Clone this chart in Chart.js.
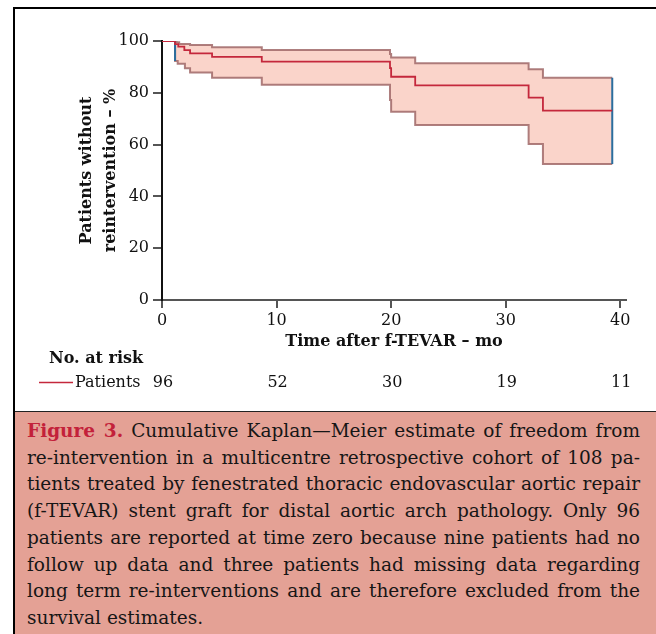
<!DOCTYPE html>
<html>
<head>
<meta charset="utf-8">
<script src="https://cdn.jsdelivr.net/npm/chart.js@4.4.1/dist/chart.umd.min.js"></script>
<style>
  html, body { margin: 0; padding: 0; background: #fff; }
  body { width: 656px; height: 634px; position: relative; overflow: hidden; }
  #frame { position: absolute; left: 13px; top: 7px; width: 643px; height: 627px;
           border-top: 2px solid #000; border-left: 2px solid #000; box-sizing: border-box; }
  #wrap { position: absolute; left: 15px; top: 9px; width: 641px; height: 402px; }
  #caption { position: absolute; left: 15px; top: 411px; right: 0; bottom: 0;
             background: #e4a195; border-top: 1px solid #222;
             padding: 6px 16px 0 12px; font-family: "DejaVu Serif", serif;
             font-size: 18.5px; line-height: 26.7px; color: #161616; }
  #caption div { text-align: justify; text-align-last: justify; }
  #caption div.last { text-align-last: left; }
  #caption b { color: #c3213a; }
</style>
</head>
<body>
<div id="frame"></div>
<div id="wrap"><canvas id="km" width="641" height="402"></canvas></div>
<div id="caption">
  <div><b>Figure 3.</b> Cumulative Kaplan—Meier estimate of freedom from</div>
  <div>re-intervention in a multicentre retrospective cohort of 108 pa-</div>
  <div>tients treated by fenestrated thoracic endovascular aortic repair</div>
  <div>(f-TEVAR) stent graft for distal aortic arch pathology. Only 96</div>
  <div>patients are reported at time zero because nine patients had no</div>
  <div>follow up data and three patients had missing data regarding</div>
  <div>long term re-interventions and are therefore excluded from the</div>
  <div class="last">survival estimates.</div>
</div>
<script>
// step times (months) shared by the estimate and its confidence band
const times  = [0, 1.14, 1.28, 1.37, 1.42, 1.5, 1.95, 2.0, 2.45, 4.37, 8.71, 19.9, 20.0, 22.1, 32.0, 33.25, 39.3];
const km     = [100, 98.8, 98.8, 98.8, 97.8, 97.8, 96.5, 96.5, 95.2, 93.9, 92.0, 89.5, 86.2, 82.9, 78.1, 73.1, 73.1];
const upper  = [100, 100, 99.5, 99.5, 99.5, 98.8, 98.8, 98.8, 98.5, 97.6, 96.5, 95.0, 93.6, 91.4, 89.1, 85.8, 85.8];
const lower  = [100, 92.3, 92.3, 91.2, 91.2, 91.2, 91.2, 89.5, 87.8, 85.8, 83.1, 77.2, 72.7, 67.6, 60.2, 52.5, 52.5];

const xTicks = [0, 10, 20, 30, 40];
const yTicks = [0, 20, 40, 60, 80, 100];
const riskTimes  = [0, 10, 20, 30, 40];
const riskCounts = [96, 52, 30, 19, 11];

const FONT = "DejaVu Serif";
const RED = "#c4283c";
const BAND_LINE = "rgba(160,105,105,0.85)";
const BLUE = "#2b6e9e";

function pts(ys) {
  return times.map((t, i) => ({ x: t, y: ys[i] }));
}
const last = times.length - 1;
const edgeStart = [{ x: times[1], y: upper[0] }, { x: times[1], y: lower[1] }];
const edgeEnd = [{ x: times[last], y: upper[last] }, { x: times[last], y: lower[last] }];

// "No. at risk" table under the x axis
const riskTable = {
  id: "riskTable",
  afterDraw(chart) {
    const { ctx } = chart;
    const xs = chart.scales.x;
    ctx.save();
    ctx.fillStyle = "#111";
    ctx.textBaseline = "middle";
    ctx.font = "bold 16px '" + FONT + "'";
    ctx.textAlign = "left";
    ctx.fillText("No. at risk", 34, 350);

    ctx.strokeStyle = RED;
    ctx.lineWidth = 1.5;
    ctx.beginPath();
    ctx.moveTo(24, 373.5);
    ctx.lineTo(58, 373.5);
    ctx.stroke();

    ctx.font = "16px '" + FONT + "'";
    ctx.fillText("Patients", 60, 374);
    ctx.textAlign = "center";
    riskTimes.forEach((t, i) => {
      ctx.fillText(String(riskCounts[i]), xs.getPixelForValue(t) + 1, 374);
    });
    ctx.restore();
  },
};

new Chart(document.getElementById("km"), {
  type: "line",
  plugins: [riskTable],
  data: {
    datasets: [
      { data: pts(km), borderColor: RED, borderWidth: 1.8, stepped: "before", fill: false },
      { data: edgeStart, borderColor: BLUE, borderWidth: 2, fill: false },
      { data: edgeEnd, borderColor: BLUE, borderWidth: 2, fill: false },
      { data: pts(upper), borderColor: BAND_LINE, borderWidth: 2, stepped: "before",
        fill: "+1", backgroundColor: "#fad4ca" },
      { data: pts(lower), borderColor: BAND_LINE, borderWidth: 2, stepped: "before", fill: false },
    ],
  },
  options: {
    responsive: false,
    animation: false,
    layout: { padding: { left: 0, top: 32, right: 30, bottom: 56 } },
    elements: { point: { radius: 0 }, line: { tension: 0 } },
    plugins: {
      legend: { display: false },
      tooltip: { enabled: false },
      filler: { drawTime: "beforeDatasetsDraw" },
    },
    scales: {
      x: {
        type: "linear",
        min: 0,
        max: 40.5,
        afterBuildTicks: (s) => { s.ticks = xTicks.map((v) => ({ value: v })); },
        afterFit: (s) => { s.height = 55; },
        ticks: { font: { family: FONT, size: 16 }, color: "#111", padding: 3, maxRotation: 0 },
        grid: { drawOnChartArea: false, tickLength: 8, color: "#555", lineWidth: 2 },
        border: { color: "#555", width: 2 },
        title: {
          display: true,
          text: "Time after f-TEVAR – mo",
          font: { family: FONT, size: 16, weight: "bold" },
          color: "#111",
          padding: { top: 0, bottom: 4 },
        },
      },
      y: {
        min: 0,
        max: 100,
        afterBuildTicks: (s) => { s.ticks = yTicks.map((v) => ({ value: v })); },
        afterFit: (s) => { s.width = 147; },
        ticks: { font: { family: FONT, size: 16 }, color: "#111", padding: 4 },
        grid: { drawOnChartArea: false, tickLength: 9, color: "#555", lineWidth: 2 },
        border: { color: "#111", width: 2 },
        title: {
          display: true,
          text: ["Patients without", "reintervention – %"],
          font: { family: FONT, size: 16, weight: "bold", lineHeight: 1.5 },
          color: "#111",
          padding: { top: 60, bottom: 0 },
        },
      },
    },
  },
});
</script>
</body>
</html>
